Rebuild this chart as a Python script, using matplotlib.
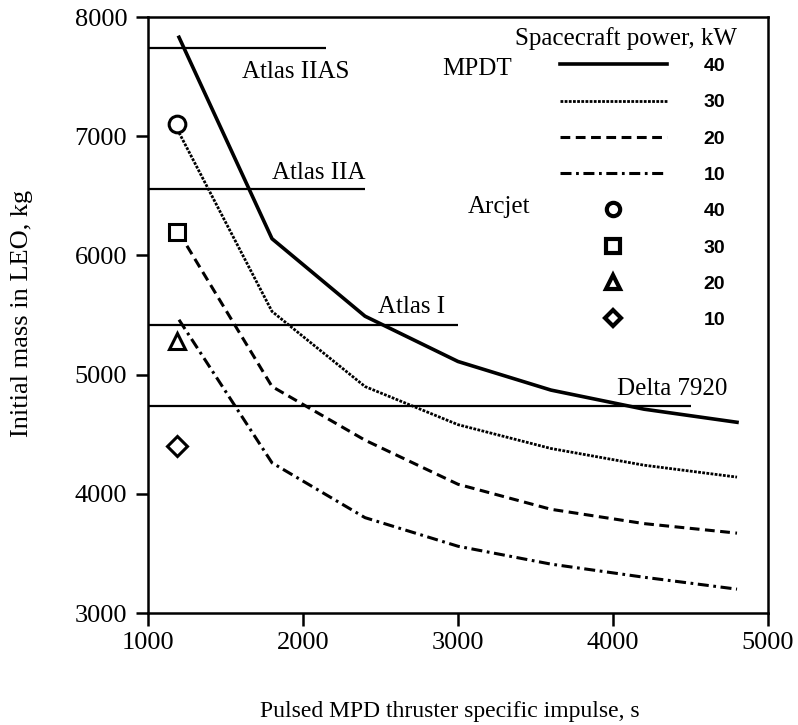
import matplotlib.pyplot as plt
from matplotlib.lines import Line2D

plt.rcParams['font.family'] = ['Liberation Serif', 'DejaVu Serif']

# specific impulse points of the MPDT curves (s)
isp = [1200, 1800, 2400, 3000, 3600, 4200, 4800]

# initial mass in LEO (kg), MPDT, per spacecraft power
mpdt_40 = [7830, 6140, 5490, 5110, 4870, 4710, 4600]
mpdt_30 = [7030, 5530, 4900, 4580, 4380, 4240, 4140]
mpdt_20 = [6190, 4900, 4450, 4080, 3870, 3750, 3670]
mpdt_10 = [5460, 4260, 3800, 3560, 3410, 3300, 3200]

# arcjet points
arcjet_isp = [1190, 1190, 1190, 1190]
arcjet_mass = [7100, 6200, 5280, 4400]
power_labels = ['40', '30', '20', '10']

# launch vehicle capability
launchers = ['Atlas IIAS', 'Atlas IIA', 'Atlas I', 'Delta 7920']
launch_mass = [7740, 6560, 5420, 4740]
launch_isp_end = [2150, 2400, 3000, 4500]

fig = plt.figure(figsize=(7.98, 7.25), dpi=100)
ax = fig.add_axes([148 / 798, 1 - 613 / 725, 620 / 798, 596 / 725])

# launch vehicle lines
for m, xe in zip(launch_mass, launch_isp_end):
    ax.plot([1000, xe], [m, m], color='black', lw=1.6, solid_capstyle='butt')

styles = [
    dict(ls='-', lw=2.6),
    dict(ls=(0, (1.0, 0.5)), lw=2.0),
    dict(ls=(0, (3.2, 1.8)), lw=2.2),
    dict(ls=(0, (3.6, 1.5, 0.9, 1.5)), lw=2.2),
]
curves = [mpdt_40, mpdt_30, mpdt_20, mpdt_10]
handles = []
for y, st in zip(curves, styles):
    ax.plot(isp, y, color='black', **st)
    handles.append(Line2D([], [], color='black', **st))

markers = ['o', 's', '^', 'D']
msizes = [12, 12, 12, 10]
for x, y, mk, ms in zip(arcjet_isp, arcjet_mass, markers, msizes):
    ax.plot(x, y, marker=mk, ms=ms, mfc='white', mec='black', mew=2.2, ls='none')
for mk, ms in zip(markers, msizes):
    handles.append(Line2D([], [], marker=mk, ms=ms * 0.8, mfc='white', mec='black',
                          mew=3, ls='none'))

leg = ax.legend(handles, power_labels + power_labels, loc='upper left',
                bbox_to_anchor=(0.664, 0.932), frameon=False, borderpad=0,
                borderaxespad=0, handlelength=5.5, handletextpad=1.9,
                labelspacing=0.96, prop=dict(family='Liberation Sans', weight='bold', size=14))

# text annotations
kw = dict(fontsize=18, va='center')
ax.text(4800, 7817, 'Spacecraft power, kW', ha='right', **kw)
ax.text(2900, 7565, 'MPDT', ha='left', **kw)
ax.text(3065, 6403, 'Arcjet', ha='left', **kw)
ax.text(1604, 7535, launchers[0], ha='left', **kw)
ax.text(1798, 6691, launchers[1], ha='left', **kw)
ax.text(2484, 5563, launchers[2], ha='left', **kw)
ax.text(4023, 4879, launchers[3], ha='left', **kw)

ax.set_xlim(1000, 5000)
ax.set_ylim(3000, 8000)
ax.set_xticks([1000, 2000, 3000, 4000, 5000])
ax.set_yticks([3000, 4000, 5000, 6000, 7000, 8000])
ax.tick_params(direction='out', length=9, width=1.8, labelsize=19)
ax.tick_params(axis='y', pad=6)
ax.tick_params(axis='x', pad=5)
for s in ax.spines.values():
    s.set_linewidth(1.8)

ax.set_xlabel('Pulsed MPD thruster specific impulse, s', fontsize=17)
ax.set_ylabel('Initial mass in LEO, kg', fontsize=19)
ax.xaxis.set_label_coords(0.487, -0.148)
ax.yaxis.set_label_coords(-0.185, 0.503)

fig.savefig('out.png', dpi=100)
